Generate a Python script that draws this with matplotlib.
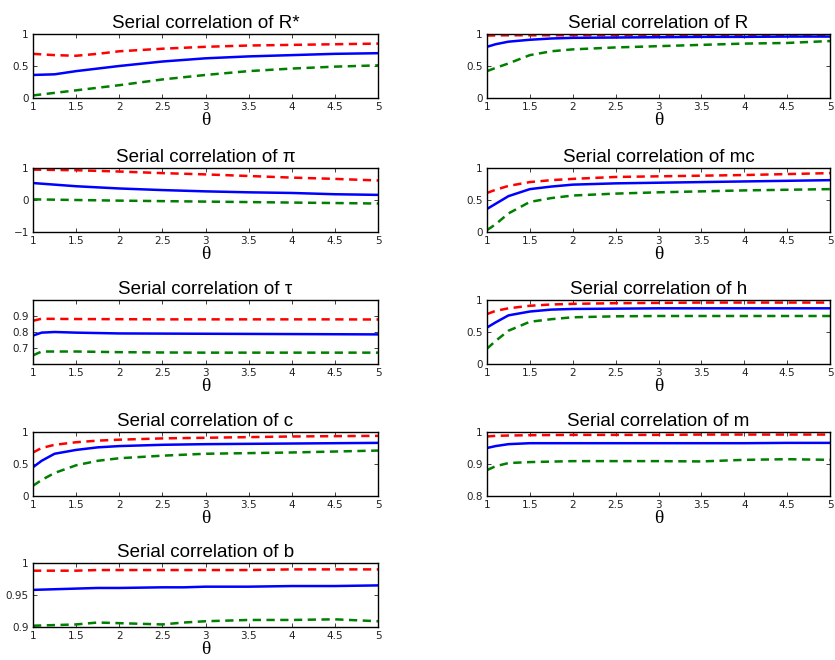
import numpy as np
import matplotlib
matplotlib.use("Agg")
import matplotlib.pyplot as plt
from matplotlib.ticker import FuncFormatter

# serial correlations against theta: upper band, median, lower band
theta_Rstar = [1, 1.25, 1.5, 1.75, 2, 2.5, 3, 3.5, 4, 4.5, 5]
hi_Rstar = [0.69, 0.67, 0.66, 0.69, 0.73, 0.77, 0.80, 0.82, 0.83, 0.84, 0.85]
med_Rstar = [0.36, 0.37, 0.42, 0.46, 0.50, 0.57, 0.62, 0.65, 0.67, 0.69, 0.70]
lo_Rstar = [0.04, 0.08, 0.12, 0.16, 0.20, 0.29, 0.36, 0.42, 0.46, 0.49, 0.51]

theta_R = [1, 1.1, 1.25, 1.5, 1.75, 2, 2.5, 3, 3.5, 4, 4.5, 5]
hi_R = [0.975, 0.978, 0.98, 0.98, 0.98, 0.98, 0.98, 0.98, 0.98, 0.98, 0.98, 0.98]
med_R = [0.80, 0.84, 0.88, 0.91, 0.93, 0.94, 0.945, 0.95, 0.955, 0.955, 0.96, 0.96]
lo_R = [0.42, 0.47, 0.54, 0.67, 0.73, 0.76, 0.79, 0.81, 0.83, 0.85, 0.86, 0.89]

theta_pi = [1, 1.5, 2, 2.5, 3, 3.5, 4, 4.5, 5]
hi_pi = [0.95, 0.93, 0.89, 0.84, 0.80, 0.75, 0.70, 0.66, 0.61]
med_pi = [0.53, 0.43, 0.36, 0.31, 0.27, 0.24, 0.22, 0.18, 0.16]
lo_pi = [0.02, 0.0, -0.02, -0.035, -0.05, -0.065, -0.08, -0.095, -0.11]

theta_mc = [1, 1.1, 1.25, 1.5, 1.75, 2, 2.5, 3, 3.5, 4, 4.5, 5]
hi_mc = [0.61, 0.66, 0.72, 0.78, 0.81, 0.83, 0.86, 0.87, 0.88, 0.89, 0.905, 0.92]
med_mc = [0.36, 0.44, 0.56, 0.67, 0.71, 0.74, 0.76, 0.77, 0.78, 0.79, 0.80, 0.81]
lo_mc = [0.03, 0.12, 0.29, 0.47, 0.53, 0.57, 0.60, 0.62, 0.635, 0.65, 0.66, 0.67]

theta_tau = [1, 1.1, 1.25, 1.5, 2, 2.5, 3, 3.5, 4, 4.5, 5]
hi_tau = [0.87, 0.883, 0.882, 0.881, 0.88, 0.879, 0.879, 0.879, 0.879, 0.879, 0.878]
med_tau = [0.778, 0.796, 0.80, 0.796, 0.791, 0.79, 0.789, 0.788, 0.787, 0.786, 0.785]
lo_tau = [0.654, 0.678, 0.678, 0.678, 0.674, 0.672, 0.671, 0.671, 0.671, 0.671, 0.671]

theta_h = [1, 1.1, 1.25, 1.5, 1.75, 2, 2.5, 3, 3.5, 4, 4.5, 5]
hi_h = [0.78, 0.83, 0.87, 0.91, 0.93, 0.94, 0.95, 0.955, 0.96, 0.96, 0.96, 0.96]
med_h = [0.57, 0.65, 0.76, 0.82, 0.85, 0.86, 0.865, 0.87, 0.87, 0.87, 0.87, 0.87]
lo_h = [0.24, 0.36, 0.52, 0.66, 0.70, 0.73, 0.745, 0.75, 0.75, 0.75, 0.75, 0.75]

theta_c = [1, 1.1, 1.25, 1.5, 1.75, 2, 2.5, 3, 3.5, 4, 4.5, 5]
hi_c = [0.68, 0.75, 0.80, 0.84, 0.865, 0.88, 0.90, 0.91, 0.92, 0.93, 0.935, 0.94]
med_c = [0.45, 0.55, 0.66, 0.72, 0.76, 0.78, 0.80, 0.81, 0.815, 0.82, 0.825, 0.83]
lo_c = [0.16, 0.25, 0.36, 0.48, 0.55, 0.59, 0.63, 0.66, 0.67, 0.68, 0.695, 0.71]

theta_m = [1, 1.1, 1.25, 1.5, 2, 2.5, 3, 3.5, 4, 4.5, 5]
hi_m = [0.986, 0.988, 0.989, 0.990, 0.991, 0.991, 0.991, 0.992, 0.992, 0.992, 0.992]
med_m = [0.950, 0.956, 0.962, 0.965, 0.965, 0.965, 0.965, 0.965, 0.965, 0.966, 0.966]
lo_m = [0.881, 0.893, 0.903, 0.906, 0.909, 0.909, 0.909, 0.908, 0.913, 0.915, 0.913]

theta_b = [1, 1.5, 1.75, 2, 2.5, 2.75, 3, 3.5, 4, 4.5, 5]
hi_b = [0.988, 0.988, 0.989, 0.989, 0.989, 0.989, 0.989, 0.989, 0.990, 0.990, 0.990]
med_b = [0.958, 0.960, 0.961, 0.961, 0.962, 0.962, 0.963, 0.963, 0.964, 0.964, 0.965]
lo_b = [0.902, 0.904, 0.907, 0.906, 0.904, 0.907, 0.909, 0.911, 0.911, 0.912, 0.909]

panels = [
    ("R*", theta_Rstar, hi_Rstar, med_Rstar, lo_Rstar, (0, 1), [0, 0.5, 1]),
    ("R", theta_R, hi_R, med_R, lo_R, (0, 1), [0, 0.5, 1]),
    ("\u03c0", theta_pi, hi_pi, med_pi, lo_pi, (-1, 1), [-1, 0, 1]),
    ("mc", theta_mc, hi_mc, med_mc, lo_mc, (0, 1), [0, 0.5, 1]),
    ("\u03c4", theta_tau, hi_tau, med_tau, lo_tau, (0.6, 1), [0.7, 0.8, 0.9]),
    ("h", theta_h, hi_h, med_h, lo_h, (0, 1), [0, 0.5, 1]),
    ("c", theta_c, hi_c, med_c, lo_c, (0, 1), [0, 0.5, 1]),
    ("m", theta_m, hi_m, med_m, lo_m, (0.8, 1), [0.8, 0.9, 1]),
    ("b", theta_b, hi_b, med_b, lo_b, (0.9, 1), [0.9, 0.95, 1]),
]

fmt = FuncFormatter(lambda v, pos: ("%g" % v).replace("-", "\u2212"))

W, H = 835, 660
fig = plt.figure(figsize=(W / 100, H / 100), dpi=100)

col_x = [33, 487]
col_w = [345, 343]
row_top = [34, 168, 300, 432, 563]
ax_h = 64

for k, (name, th, hi, med, lo, ylim, yt) in enumerate(panels):
    r, c = divmod(k, 2)
    ax = fig.add_axes([col_x[c] / W, 1 - (row_top[r] + ax_h) / H, col_w[c] / W, ax_h / H])
    ax.plot(th, hi, color="#ff0000", lw=1.8, dashes=(3.3, 2.2))
    ax.plot(th, med, color="#0000ff", lw=1.8)
    ax.plot(th, lo, color="#007f00", lw=1.8, dashes=(3.3, 2.2))
    ax.set_xlim(1, 5)
    ax.set_ylim(*ylim)
    ax.set_xticks(np.arange(1, 5.01, 0.5))
    ax.set_yticks(yt)
    ax.xaxis.set_major_formatter(fmt)
    ax.yaxis.set_major_formatter(fmt)
    ax.tick_params(direction="in", length=3, width=0.6, labelsize=7.5,
                   top=True, right=True, pad=3, colors="#222222")
    for sp in ax.spines.values():
        sp.set_linewidth(1.0)
    ax.set_title("Serial correlation of " + name, fontsize=13.5,
                 family="Liberation Sans", pad=4)
    ax.set_xlabel("\u03b8", fontsize=14, family="Liberation Serif", labelpad=0)

fig.savefig("out.png", dpi=100)
